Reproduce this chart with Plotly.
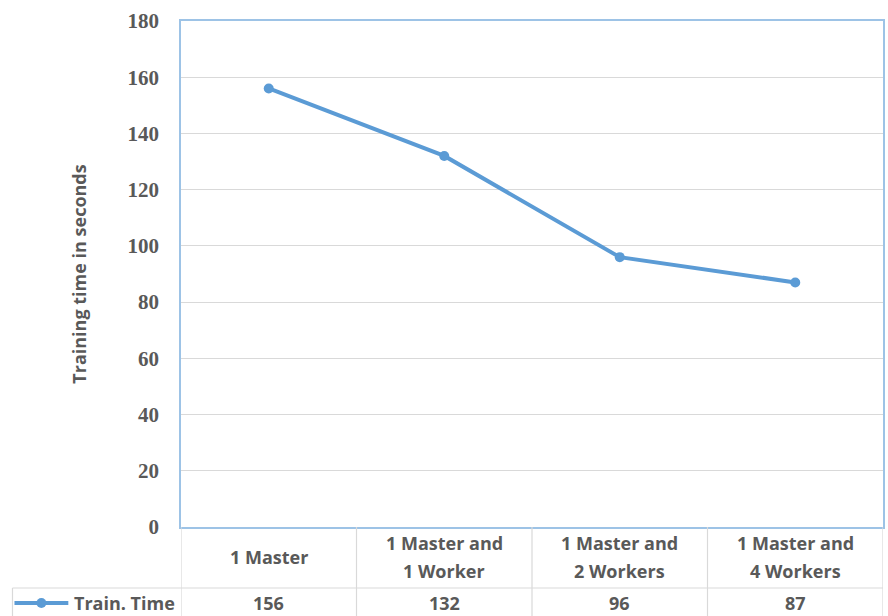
import plotly.graph_objects as go

categories = ["1 Master", "1 Master and<br>1 Worker", "1 Master and<br>2 Workers", "1 Master and<br>4 Workers"]
train_time = [156, 132, 96, 87]
series_name = "Train. Time"
y_ticks = [0, 20, 40, 60, 80, 100, 120, 140, 160, 180]

W, H = 888, 616
L, R, T, B = 181, 3, 21, 89
plot_h = H - T - B

def py(px_y):
    # convert pixel y (from top of image) to paper coordinate
    return (H - B - px_y) / plot_h

LINE = "#5B9BD5"
GRAY_TXT = "#595959"
GRID = "#D9D9D9"
BORDER = "#9DC3E6"
xpos = list(range(len(categories)))

fig = go.Figure()
fig.add_trace(go.Scatter(
    x=xpos, y=train_time, mode="lines+markers", name=series_name,
    line=dict(color=LINE, width=4), marker=dict(color=LINE, size=10),
    showlegend=False, cliponaxis=False,
))

shapes = []
annotations = []
n = len(categories)
kx = lambda p: (p - L) / (W - L - R)
# table vertical lines
for i in range(n + 1):
    shapes.append(dict(type="line", xref="x", yref="paper", x0=i - 0.5, x1=i - 0.5,
                       y0=py(527), y1=py(617), line=dict(color=GRID, width=1.2)))
# header/data divider
shapes.append(dict(type="line", xref="paper", yref="paper", x0=kx(12), x1=1,
                   y0=py(588), y1=py(588), line=dict(color=GRID, width=1.2)))
# left box for legend cell
shapes.append(dict(type="line", xref="paper", yref="paper", x0=kx(12), x1=kx(12),
                   y0=py(588), y1=py(617), line=dict(color=GRID, width=1.2)))
# legend key line
shapes.append(dict(type="line", xref="paper", yref="paper", x0=kx(14), x1=kx(68),
                   y0=py(603), y1=py(603), line=dict(color=LINE, width=4)))
shapes.append(dict(type="circle", xref="paper", yref="paper", x0=kx(36), x1=kx(46),
                   y0=py(608), y1=py(598), line=dict(color=LINE, width=0), fillcolor=LINE))

txt_font = dict(family="Open Sans, Noto Sans, sans-serif", size=18, color=GRAY_TXT)
for i, c in enumerate(categories):
    lines = c.split("<br>")
    if len(lines) == 1:
        ys = [557]
    else:
        ys = [543, 571]
    for ln, yy in zip(lines, ys):
        annotations.append(dict(x=i, xref="x", y=py(yy), yref="paper", text="<b>%s</b>" % ln,
                                showarrow=False, font=txt_font, xanchor="center", yanchor="middle"))
    annotations.append(dict(x=i, xref="x", y=py(603), yref="paper", text="<b>%d</b>" % train_time[i],
                            showarrow=False, font=txt_font, xanchor="center", yanchor="middle"))
annotations.append(dict(x=kx(177), xref="paper", y=py(603), yref="paper", text="<b>%s</b>" % series_name,
                        showarrow=False, font=txt_font, xanchor="right", yanchor="middle"))

fig.update_layout(
    width=W, height=H,
    margin=dict(l=L, r=R, t=T, b=B),
    paper_bgcolor="white", plot_bgcolor="white",
    xaxis=dict(range=[-0.5, n - 0.5], showticklabels=False, showgrid=False, zeroline=False,
               showline=True, linecolor=BORDER, linewidth=1.5, mirror=True, ticks=""),
    yaxis=dict(range=[0, 180], tickvals=y_ticks, showgrid=True, gridcolor=GRID, gridwidth=1,
               zeroline=False, showline=True, linecolor=BORDER, linewidth=1.5, mirror=True,
               tickfont=dict(family="Liberation Serif, serif", size=21, color=GRAY_TXT, weight="bold"),
               ticklabelstandoff=16,
               title=dict(text="<b>Training time in seconds</b>", standoff=36,
                          font=dict(family="Open Sans, Noto Sans, sans-serif", size=18, color=GRAY_TXT))),
    shapes=shapes, annotations=annotations,
)
fig.write_html("out.html", config={"displayModeBar": False},
               post_script="document.body.style.margin='0';document.body.style.padding='0';document.body.style.overflow='hidden';")
